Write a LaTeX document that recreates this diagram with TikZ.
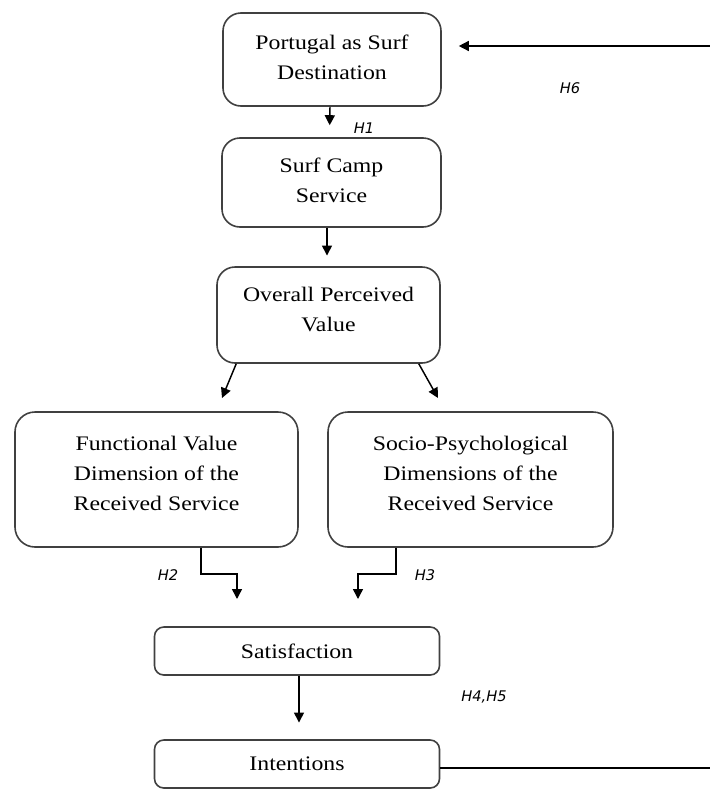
\documentclass[tikz,border=0pt]{standalone}
\usepackage{fontspec}
\setmainfont[FakeStretch=1.15]{Liberation Serif}
\newfontfamily\hfont{DejaVu Sans}
\usetikzlibrary{arrows.meta,calc}
\begin{document}
\begin{tikzpicture}[x=0.75pt,y=-0.75pt,
  box/.style={draw=black!75, line width=1.2pt, rounded corners=13.5pt, fill=white, inner sep=0pt},
  boxs/.style={box, rounded corners=7pt, font=\fontsize{15.5}{22.5}\selectfont},
  txt/.style={align=center, font=\fontsize{15.5}{22.5}\selectfont, inner sep=0pt},
  hl/.style={font=\hfont\itshape\fontsize{11}{13}\selectfont, inner sep=0pt},
  arr/.style={-{Triangle[length=7.5pt,width=7.5pt]}, line width=1.1pt},
  ln/.style={line width=1.1pt}]
\useasboundingbox (0,0) rectangle (710,789);

% boxes
\node[box, minimum width=163.5pt, minimum height=69.75pt] (port) at (332,59.5) {};
\node[txt] (port-t) at ($(port.center)+(0,-2)$) {Portugal as Surf\\Destination};

\node[box, minimum width=164.25pt, minimum height=66.75pt] (camp) at (331.5,182.5) {};
\node[txt] (camp-t) at ($(camp.center)+(0,-2.5)$) {Surf Camp\\Service};

\node[box, minimum width=167.25pt, minimum height=72pt] (overall) at (328.5,315) {};
\node[txt] (overall-t) at ($(overall.center)+(0,-6)$) {Overall Perceived\\Value};

\node[box, minimum width=212.25pt, minimum height=101.25pt, rounded corners=15pt] (func) at (156.5,479.5) {};
\node[txt] (func-t) at ($(func.center)+(0,-6.5)$) {Functional Value\\Dimension of the\\Received Service};

\node[box, minimum width=213.75pt, minimum height=101.25pt, rounded corners=15pt] (socio) at (470.5,479.5) {};
\node[txt] (socio-t) at ($(socio.center)+(0,-6.5)$) {Socio-Psychological\\Dimensions of the\\Received Service};

\node[boxs, minimum width=213.75pt, minimum height=36pt] (sat) at (297,651) {Satisfaction};
\node[boxs, minimum width=213.75pt, minimum height=36pt] (int) at (297,764) {Intentions};

% free-end coordinates
\coordinate (h6s) at (710,46);
\coordinate (intR) at (710,768);
\coordinate (a1) at (222,398);
\coordinate (a2) at (438,398);
\coordinate (h2e) at (237,599);
\coordinate (h3e) at (358,599);

% connectors
\draw[arr, shorten >=12.75pt] (h6s) -- (port.east |- h6s);
\draw[ln] ($(int.east)+(0,4)$) -- (intR);
\draw[arr, shorten >=9pt] ($(port.south)+(-2,0)$) -- ($(camp.north)+(-2,0)$);
\draw[arr, shorten >=8pt] ($(camp.south)+(-4.5,0)$) -- ($(overall.north)+(-1.5,0)$);
\draw[arr] ($(overall.south west)+(20,0)$) -- (a1);
\draw[arr] ($(overall.south east)+(-22,0)$) -- (a2);
\draw[arr] ($(func.south west)+(187,0)$) -- ++(0,26) -| (h2e);
\draw[arr] ($(socio.south west)+(69,0)$) -- ++(0,26) -| (h3e);
\draw[arr, shorten >=12.5pt] ($(sat.south)+(2,0)$) -- ($(int.north)+(2,0)$);

% hypothesis labels
\node[hl] (lh1) at (364,128) {H1};
\node[hl] (lh6) at (570,88) {H6};
\node[hl] (lh2) at (168,575) {H2};
\node[hl] (lh3) at (425,575) {H3};
\node[hl] (lh45) at (484,697) {H4,H5};
\end{tikzpicture}
\end{document}
